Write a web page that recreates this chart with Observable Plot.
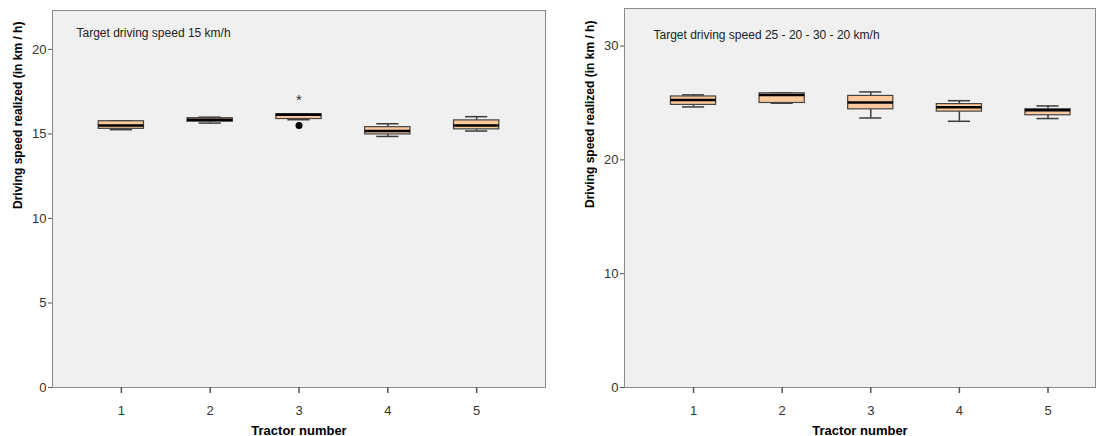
<!DOCTYPE html>
<html>
<head>
<meta charset="utf-8">
<script src="https://cdn.jsdelivr.net/npm/d3@7"></script>
<script src="https://cdn.jsdelivr.net/npm/@observablehq/plot@0.6"></script>
<style>
  html, body { margin: 0; padding: 0; background: #ffffff; }
  #wrap { position: relative; width: 1107px; height: 436px; overflow: hidden; background: #fff; }
  #wrap svg { position: absolute; top: 0; }
  g[aria-label="x-axis label"] text { font-weight: bold; fill: #000; }
</style>
</head>
<body>
<div id="wrap"></div>
<script>
// ---------- data ----------
const tractors = [1, 2, 3, 4, 5];
const xTicks = [1, 2, 3, 4, 5];
const xLabel = "Tractor number";
const yLabel = "Driving speed realized (in km / h)";

// Panel A: target 15 km/h
const titleA = "Target driving speed 15 km/h";
const lowA  = [15.25, 15.64, 15.84, 14.85, 15.17];
const q1A   = [15.30, 15.72, 15.88, 14.97, 15.27];
const medA  = [15.50, 15.84, 16.13, 15.17, 15.50];
const q3A   = [15.75, 15.93, 16.17, 15.40, 15.80];
const highA = [15.78, 15.99, 16.19, 15.60, 16.02];
const outlierTractorA = [3];
const outlierValueA = [15.50];
const extremeTractorA = [3];
const extremeValueA = [17.18];
const yTicksA = [0, 5, 10, 15, 20];

// Panel B: target 25 - 20 - 30 - 20 km/h
const titleB = "Target driving speed 25 - 20 - 30 - 20 km/h";
const lowB  = [24.65, 24.98, 23.68, 23.39, 23.63];
const q1B   = [24.83, 25.00, 24.44, 24.24, 23.92];
const medB  = [25.27, 25.70, 25.05, 24.62, 24.36];
const q3B   = [25.57, 25.85, 25.62, 24.90, 24.45];
const highB = [25.71, 25.90, 25.97, 25.20, 24.74];
const yTicksB = [0, 10, 20, 30];

// ---------- drawing ----------
function panel(o) {
  const rows = tractors.map((t, i) => ({t, low: o.low[i], q1: o.q1[i], med: o.med[i], q3: o.q3[i], high: o.high[i]}));
  const hw = 0.255, cw = 0.125;
  const outl = (o.outT || []).map((t, i) => ({t, v: o.outV[i]}));
  const ext = (o.extT || []).map((t, i) => ({t, v: o.extV[i]}));
  return Plot.plot({
    width: o.width, height: 436,
    marginLeft: o.ml, marginRight: o.mr, marginTop: o.mt, marginBottom: 49,
    style: {fontFamily: "'Liberation Sans', Arial, sans-serif", fontSize: "13px", background: "transparent", overflow: "visible"},
    x: {type: "linear", domain: o.xdom},
    y: {domain: [0, o.ymax]},
    marks: [
      Plot.frame({fill: "#f0f0f0", stroke: "none"}),
      Plot.ruleX(rows, {x: "t", y1: "low", y2: "q1", stroke: "#3c3c3c", strokeWidth: 1.5}),
      Plot.ruleX(rows, {x: "t", y1: "q3", y2: "high", stroke: "#3c3c3c", strokeWidth: 1.5}),
      Plot.ruleY(rows, {y: "low", x1: d => d.t - cw, x2: d => d.t + cw, stroke: "#3c3c3c", strokeWidth: 1.5}),
      Plot.ruleY(rows, {y: "high", x1: d => d.t - cw, x2: d => d.t + cw, stroke: "#3c3c3c", strokeWidth: 1.5}),
      Plot.rect(rows, {x1: d => d.t - hw, x2: d => d.t + hw, y1: "q1", y2: "q3", fill: "#fbc99b", stroke: "#444", strokeWidth: 1.2}),
      Plot.ruleY(rows, {y: "med", x1: d => d.t - hw, x2: d => d.t + hw, stroke: "#000", strokeWidth: 2.5}),
      Plot.dot(outl, {x: "t", y: "v", r: 3.5, fill: "#000", stroke: "none"}),
      Plot.text(ext, {x: "t", y: "v", text: () => "*", fontSize: 15, fill: "#333", dy: 3}),
      Plot.frame({stroke: "#8a8a8a", strokeWidth: 1}),
      Plot.axisY({ticks: o.yTicks, tickSize: 4, tickPadding: 2, stroke: "#555", fill: "#333", fontSize: 13, label: null}),
      Plot.text([yLabel], {frameAnchor: "left", rotate: -90, dx: -34, dy: 10, fontSize: 12, fontWeight: "bold", fill: "#000"}),
      Plot.axisX({ticks: xTicks, tickFormat: "d", tickSize: 6, tickPadding: 12, stroke: "#555", strokeWidth: 1.5, fill: "#333", fontSize: 13,
        label: xLabel, labelAnchor: "center", labelArrow: "none", labelOffset: 47}),
      Plot.text([o.title], {frameAnchor: "top-left", dx: o.tdx, dy: o.tdy, fontSize: 12, fill: "#222", lineAnchor: "top"})
    ]
  });
}

const wrap = document.getElementById("wrap");
const a = panel({width: 560, ml: 52, mr: 15, mt: 10, xdom: [0.225, 5.775], ymax: 22.3,
  low: lowA, q1: q1A, med: medA, q3: q3A, high: highA,
  outT: outlierTractorA, outV: outlierValueA, extT: extremeTractorA, extV: extremeValueA,
  yTicks: yTicksA, title: titleA, tdx: 24, tdy: 18});
a.style.left = "0px";
wrap.appendChild(a);

const b = panel({width: 547, ml: 64, mr: 12, mt: 8, xdom: [0.221, 5.536], ymax: 33.3,
  low: lowB, q1: q1B, med: medB, q3: q3B, high: highB,
  yTicks: yTicksB, title: titleB, tdx: 29, tdy: 22});
b.style.left = "560px";
wrap.appendChild(b);
</script>
</body>
</html>
